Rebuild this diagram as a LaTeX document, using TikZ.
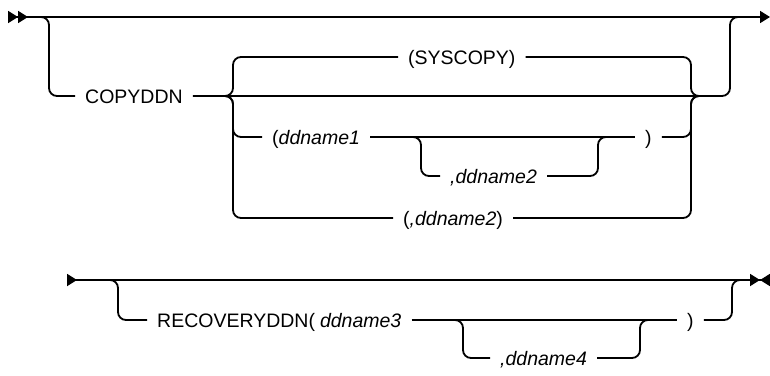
\documentclass[tikz,border=0pt]{standalone}
\usepackage{fontspec}
\setmainfont{Liberation Sans}
\usetikzlibrary{arrows.meta}
\tikzset{
  rail/.style={line width=1.8pt, rounded corners=8pt},
  kw/.style={anchor=west, inner xsep=10pt, inner ysep=0pt, text height=14pt, text depth=0pt, font=\fontsize{19.5}{23}\selectfont},
  tri/.tip={Triangle[length=10pt, width=12pt]},
  irt/.tip={Triangle[reversed, length=10pt, width=12pt]}
}
\begin{document}
\begin{tikzpicture}[x=1pt, y=-1pt]
  \useasboundingbox (0,0) rectangle (770,375);
  \node[kw] (copy) at (75,96) {COPYDDN};
  \node[kw] (sys) at (398,57) {(SYSCOPY)};
  \node[kw] (ddone) at (262,137) {(\textit{ddname1}};
  \node[kw] (rpa) at (635,137) {)};
  \node[kw] (ddtwo) at (440,176) {\textit{,ddname2}};
  \node[kw] (ddtwob) at (393,218) {(\textit{,ddname2\/})};
  \coordinate (ls) at (32,17);
  \coordinate (le) at (745,17);
  \coordinate (bl) at (222,96);
  \coordinate (br) at (702,96);
  \coordinate (sl) at (412,137);
  \coordinate (sr) at (607,137);

  \draw[line width=1.8pt, {irt[]irt[]}-{tri[]}] (8,17) -- (770,17);
  \draw[rail] (ls) -- (49,17) -- (49,96) -- (copy.west);
  \draw[rail] (copy.east) -- (730,96) -- (730,17) -- (le);
  \foreach \n/\y in {sys/57, ddone/137, ddtwob/218}
    \draw[rail] (bl) -- (233,96) -- (233,\y) -- (\n.west);
  \foreach \n/\y in {sys/57, rpa/137, ddtwob/218}
    \draw[rail] (\n.east) -- (691,\y) -- (691,96) -- (br);
  \draw[rail] (ddone.east) -- (rpa.west);
  \draw[rail] (sl) -- (421,137) -- (421,176) -- (ddtwo.west);
  \draw[rail] (ddtwo.east) -- (598,176) -- (598,137) -- (sr);

  \node[kw] (recov) at (147,320) {RECOVERYDDN(\hspace{5pt}\textit{ddname3}};
  \node[kw] (rpb) at (677,320) {)};
  \node[kw] (ddfour) at (490,358) {\textit{,ddname4}};
  \coordinate (ms) at (105,280);
  \coordinate (me) at (745,280);
  \coordinate (tl) at (453,320);
  \coordinate (tr) at (650,320);

  \draw[line width=1.8pt, {irt[]}-{tri[]irt[]}] (67,280) -- (770,280);
  \draw[rail] (ms) -- (118,280) -- (118,320) -- (recov.west);
  \draw[rail] (recov.east) -- (rpb.west);
  \draw[rail] (rpb.east) -- (732,320) -- (732,280) -- (me);
  \draw[rail] (tl) -- (463,320) -- (463,358) -- (ddfour.west);
  \draw[rail] (ddfour.east) -- (640,358) -- (640,320) -- (tr);
\end{tikzpicture}
\end{document}
